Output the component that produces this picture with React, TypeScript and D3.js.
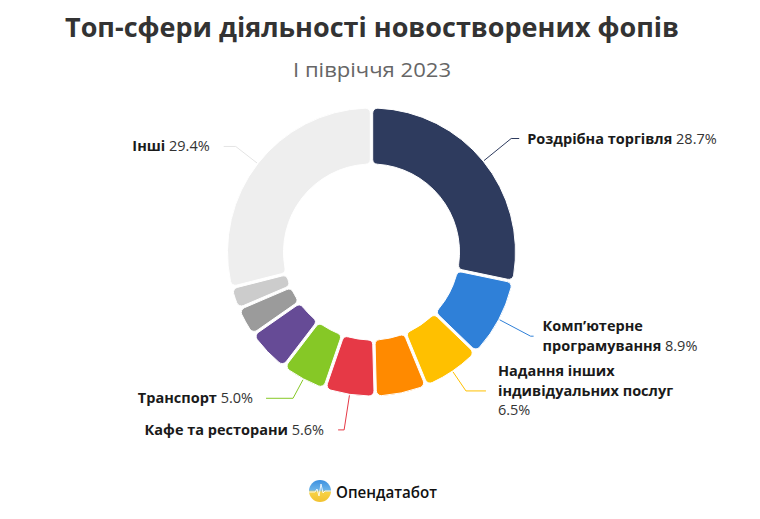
import * as d3 from "d3";
import { useEffect, useRef } from "react";

// sectors, clockwise from 12 o'clock
const categories = [
	"Роздрібна торгівля",
	"Комп’ютерне програмування",
	"Надання інших індивідуальних послуг",
	"Оранжевий",
	"Кафе та ресторани",
	"Транспорт",
	"Фіолетовий",
	"Сірий",
	"Світло-сірий",
	"Інші",
];
const shares = [28.7, 8.9, 6.5, 5.7, 5.6, 5.0, 4.8, 3.1, 2.3, 29.4];
const colors = [
	"#2e3b5e",
	"#2f80d8",
	"#ffc000",
	"#ff8a00",
	"#e63946",
	"#86c826",
	"#664b96",
	"#9b9b9b",
	"#cccccc",
	"#eeeeee",
];
// label lines (only labelled sectors)
const labelLines: Record<string, string[]> = {
	"Роздрібна торгівля": ["Роздрібна торгівля"],
	"Комп’ютерне програмування": ["Комп’ютерне", "програмування"],
	"Надання інших індивідуальних послуг": ["Надання інших", "індивідуальних послуг", ""],
	"Кафе та ресторани": ["Кафе та ресторани"],
	"Транспорт": ["Транспорт"],
	"Інші": ["Інші"],
};
// connector layout: elbow radius, horizontal tail, gap to text
const connector: Record<string, [number, number, number]> = {
	"Роздрібна торгівля": [180, 8, 8],
	"Комп’ютерне програмування": [180, 3, 9],
	"Надання інших індивідуальних послуг": [168, 20, 12],
	"Кафе та ресторани": [180, 6, 14],
	"Транспорт": [166, 27, 13],
	"Інші": [172, 12, 14],
};

const W = 760;
const H = 519;
const cx = 371.5;
const cy = 252;
const outerR = 144;
const innerR = 88;
const FONT = "'Open Sans', 'Noto Sans', sans-serif";

export default function App() {
	const svgRef = useRef<SVGSVGElement | null>(null);

	useEffect(() => {
		const svg = d3.select(svgRef.current);
		svg.selectAll("*").remove();
		svg.append("rect").attr("width", W).attr("height", H).attr("fill", "#fff");

		// title
		svg
			.append("text")
			.attr("x", 372)
			.attr("y", 37)
			.attr("text-anchor", "middle")
			.attr("font-family", FONT)
			.attr("font-weight", 700)
			.attr("font-size", 27)
			.attr("fill", "#333")
			.attr("textLength", 614)
			.attr("lengthAdjust", "spacingAndGlyphs")
			.text("Топ-сфери діяльності новостворених фопів");
		svg
			.append("text")
			.attr("x", 372)
			.attr("y", 77)
			.attr("text-anchor", "middle")
			.attr("font-family", FONT)
			.attr("font-size", 20)
			.attr("fill", "#666")
			.attr("textLength", 158)
			.attr("lengthAdjust", "spacingAndGlyphs")
			.text("І півріччя 2023");

		const data = categories.map((c, i) => ({ name: c, value: shares[i], color: colors[i] }));
		const pie = d3
			.pie<(typeof data)[number]>()
			.sort(null)
			.value((d) => d.value)
			.padAngle(0.014);
		const arcs = pie(data);
		const arc = d3
			.arc<d3.PieArcDatum<(typeof data)[number]>>()
			.innerRadius(innerR)
			.outerRadius(outerR)
			.cornerRadius(5);

		const g = svg.append("g").attr("transform", `translate(${cx},${cy})`);
		g.selectAll("path.slice")
			.data(arcs)
			.enter()
			.append("path")
			.attr("class", "slice")
			.attr("d", arc)
			.attr("fill", (d) => d.data.color)
			.attr("stroke", "#fff")
			.attr("stroke-width", 1);

		// labels + connectors
		arcs.forEach((a) => {
			const lines = labelLines[a.data.name];
			if (!lines) return;
			const [elbowR, tail, gap] = connector[a.data.name];
			const mid = (a.startAngle + a.endAngle) / 2;
			const right = Math.sin(mid) > 0;
			const sx = cx + (outerR + 1) * Math.sin(mid);
			const sy = cy - (outerR + 1) * Math.cos(mid);
			const ex = cx + elbowR * Math.sin(mid);
			const ey = cy - elbowR * Math.cos(mid);
			const tx = ex + (right ? tail : -tail);
			const lineColor = a.data.name === "Інші" ? "#e4e4e4" : a.data.color;
			svg
				.append("path")
				.attr("d", `M${sx},${sy}L${ex},${ey}L${tx},${ey}`)
				.attr("fill", "none")
				.attr("stroke", lineColor)
				.attr("stroke-width", 1);

			const labelX = tx + (right ? gap : -gap);
			const lh = 19.5;
			const y0 = ey + 5 - ((lines.length - 1) * lh) / 2;
			const pct = `${a.data.value.toFixed(1)}%`;
			lines.forEach((ln, i) => {
				const t = svg
					.append("text")
					.attr("x", labelX)
					.attr("y", y0 + i * lh)
					.attr("text-anchor", right ? "start" : "end")
					.attr("font-family", FONT)
					.attr("font-size", 14.5)
					.attr("fill", "#1a1a1a");
				if (ln) t.append("tspan").attr("font-weight", 700).text(ln);
				if (i === lines.length - 1)
					t.append("tspan").attr("font-weight", 400).attr("fill", "#333").text((ln ? " " : "") + pct);
			});
		});

		// logo
		const defs = svg.append("defs");
		const grad = defs
			.append("linearGradient")
			.attr("id", "logoGrad")
			.attr("x1", 0)
			.attr("y1", 0)
			.attr("x2", 0)
			.attr("y2", 1);
		grad.append("stop").attr("offset", "0%").attr("stop-color", "#3b8fe0");
		grad.append("stop").attr("offset", "45%").attr("stop-color", "#6cb3e8");
		grad.append("stop").attr("offset", "55%").attr("stop-color", "#f7d246");
		grad.append("stop").attr("offset", "100%").attr("stop-color", "#f2c230");
		svg.append("circle").attr("cx", 320).attr("cy", 491).attr("r", 11).attr("fill", "url(#logoGrad)");
		svg
			.append("path")
			.attr("d", "M309,492 L315,492 L317,489 L319,496 L321,484 L323,493 L325,491 L331,491")
			.attr("fill", "none")
			.attr("stroke", "#fff")
			.attr("stroke-opacity", 0.85)
			.attr("stroke-width", 1);
		svg
			.append("text")
			.attr("x", 336)
			.attr("y", 498)
			.attr("font-family", FONT)
			.attr("font-weight", 600)
			.attr("font-size", 17)
			.attr("fill", "#111")
			.attr("textLength", 101)
			.attr("lengthAdjust", "spacingAndGlyphs")
			.text("Опендатабот");
	}, []);

	return (
		<div style={{ position: "fixed", left: 0, top: 0 }}>
			<svg ref={svgRef} width={W} height={H} />
		</div>
	);
}
